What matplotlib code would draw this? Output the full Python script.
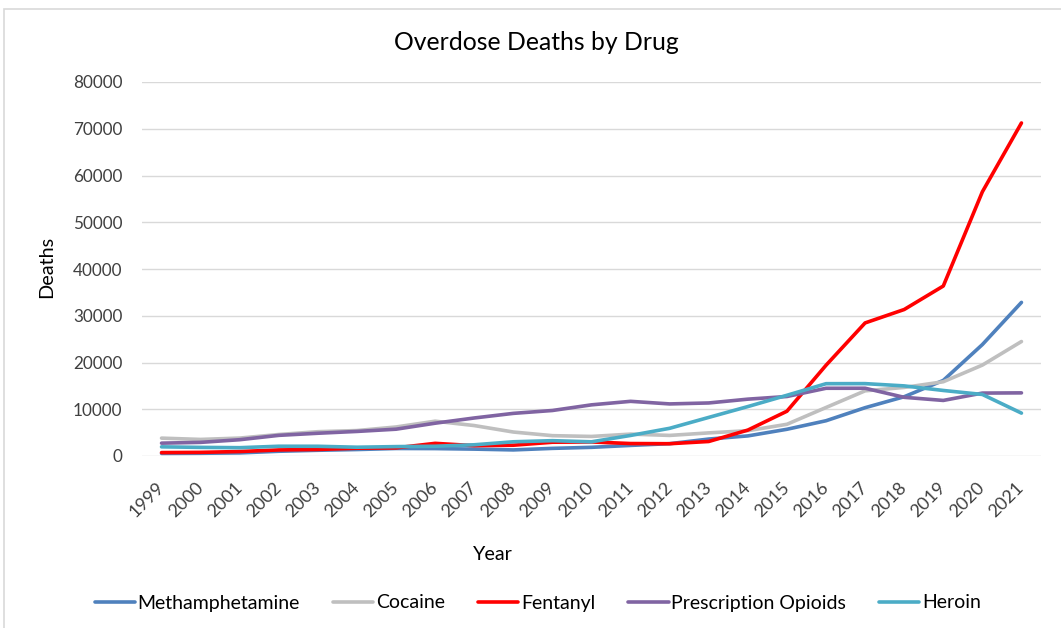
import matplotlib
matplotlib.use("Agg")
import matplotlib.pyplot as plt
from matplotlib.patches import Rectangle

years = [str(y) for y in range(1999, 2022)]
methamphetamine = [547, 578, 660, 1013, 1224, 1384, 1608, 1587, 1472, 1302, 1631, 1854, 2266, 2635,
                   3627, 4298, 5716, 7542, 10333, 12676, 16167, 23837, 32856]
cocaine = [3822, 3544, 3833, 4599, 5199, 5443, 6208, 7448, 6512, 5129, 4350, 4183, 4681, 4404,
           4944, 5415, 6784, 10375, 13942, 14666, 15883, 19447, 24486]
fentanyl = [730, 782, 957, 1295, 1400, 1664, 1742, 2707, 2213, 2306, 2946, 3007, 2666, 2628,
            3105, 5544, 9580, 19413, 28466, 31335, 36359, 56516, 71238]
prescription = [2749, 2917, 3484, 4416, 4867, 5255, 5734, 7017, 8133, 9119, 9735, 10943, 11693, 11140,
                11346, 12159, 12727, 14487, 14495, 12552, 11886, 13458, 13503]
heroin = [1960, 1842, 1779, 2089, 2080, 1878, 2009, 2088, 2399, 3041, 3278, 3036, 4397, 5925,
          8257, 10574, 12989, 15469, 15482, 14996, 14019, 13165, 9173]

series = [
    ("Methamphetamine", methamphetamine, "#4F81BD"),
    ("Cocaine", cocaine, "#BFBFBF"),
    ("Fentanyl", fentanyl, "#FF0000"),
    ("Prescription Opioids", prescription, "#8064A2"),
    ("Heroin", heroin, "#4BACC6"),
]

plt.rcParams['font.family'] = ['Lato', 'DejaVu Sans']

W, H = 1061, 628
fig = plt.figure(figsize=(W / 100, H / 100), dpi=100)
fig.patches.append(Rectangle((4 / W, -0.01), 1.0, 1 - 9 / H + 0.01, transform=fig.transFigure,
                             fill=False, edgecolor="#D9D9D9", linewidth=1.2))
ax = fig.add_axes([142 / W, 1 - 456 / H, (1041 - 142) / W, (456 - 82) / H])

x = list(range(len(years)))
for name, vals, col in series:
    ax.plot(x, vals, color=col, linewidth=2.6, label=name, solid_capstyle='round',
            solid_joinstyle='round')

ax.set_xlim(-0.5, len(years) - 0.5)
ax.set_ylim(0, 80000)
ax.set_yticks(range(0, 80001, 10000))
ax.set_yticklabels([str(v) for v in range(0, 80001, 10000)], fontsize=12.3, color="#404040")
ax.set_xticks(x)
ax.set_xticklabels(years, rotation=45, ha='right', va='center', rotation_mode='anchor',
                   fontsize=13, color="#404040")
ax.tick_params(axis='both', length=0)
ax.tick_params(axis='x', pad=21)
ax.tick_params(axis='y', pad=14)
for s in ax.spines.values():
    s.set_visible(False)
ax.grid(axis='y', color="#D9D9D9", linewidth=1.0)
ax.set_axisbelow(True)

fig.text(536 / W, 1 - 42 / H, "Overdose Deaths by Drug", fontsize=17.8, color="#000000",
         ha='center', va='center')
fig.text(47 / W, 1 - 267 / H, "Deaths", fontsize=14.3, rotation=90, ha='center', va='center')
fig.text(493 / W, 1 - 555 / H, "Year", fontsize=14.2, ha='center', va='center')

fig.legend(loc='center', bbox_to_anchor=(538 / W, 1 - 603 / H), ncol=5, frameon=False, fontsize=14,
           handlelength=2.06, columnspacing=1.7, handletextpad=0.15)

fig.savefig("out.png", dpi=100)
